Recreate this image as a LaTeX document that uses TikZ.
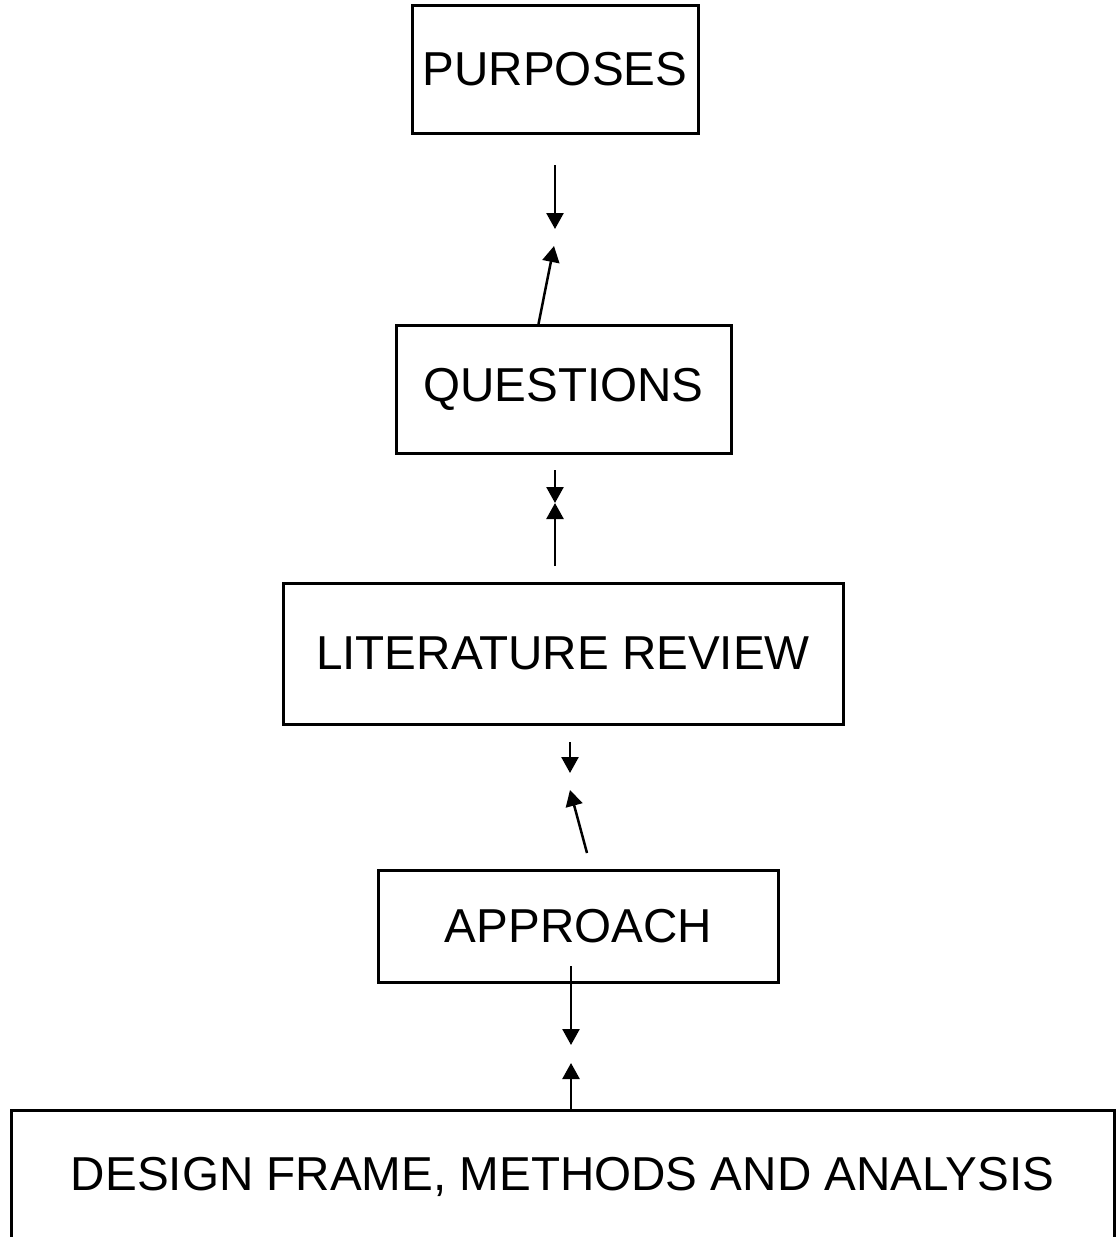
\documentclass[tikz,border=0pt]{standalone}
\usepackage{fontspec}
\setmainfont{Liberation Sans}
\usetikzlibrary{arrows.meta}

\begin{document}
\begin{tikzpicture}[
    x=0.5pt, y=-0.5pt,
    stage box/.style={
        draw=black,
        line width=1.5pt,
        fill=white,
        inner sep=0pt,
        font=\fontsize{23.8}{29}\selectfont
    },
    arrow/.style={-{Triangle[length=8pt,width=8.5pt]}, line width=1.25pt, black}
]
\useasboundingbox (0,0) rectangle (1115,1237);

% Boxes
\node[stage box, minimum width=143pt, minimum height=64pt] (purp) at (555,69) {PURPOSES};
\node[stage box, minimum width=167.5pt, minimum height=64pt] (ques) at (563.5,389.5) {QUESTIONS};
\node[stage box, minimum width=280pt, minimum height=70.5pt] (lit) at (563,653.5) {LITERATURE REVIEW};
\node[stage box, minimum width=200pt, minimum height=56pt] (appr) at (578.5,926) {APPROACH};
\node[stage box, minimum width=551.5pt, minimum height=67pt] (dsgn) at (562.5,1177) {DESIGN FRAME, METHODS AND ANALYSIS};

% Free arrow ends
\coordinate (a1) at (555,165);
\coordinate (t1) at (555,229);
\coordinate (t2) at (554,246);
\coordinate (a3) at (555,470);
\coordinate (t3) at (555,503);
\coordinate (a4) at (555,566);
\coordinate (t4) at (555,503);
\coordinate (a5) at (570,742);
\coordinate (t5) at (570,773);
\coordinate (a6) at (587,853);
\coordinate (t6) at (570,790);
\coordinate (a7) at (571,966);
\coordinate (t7) at (571,1045);
\coordinate (t8) at (571,1063);

% Arrows between boxes
\draw[arrow] (a1) -- (t1);
\draw[arrow] ([xshift=-12.5pt]ques.north) -- (t2);
\draw[arrow] (a3) -- (t3);
\draw[arrow] (a4) -- (t4);
\draw[arrow] (a5) -- (t5);
\draw[arrow] (a6) -- (t6);
\draw[arrow] (a7) -- (t7);
\draw[arrow] ([xshift=4.25pt]dsgn.north) -- (t8);

\end{tikzpicture}
\end{document}
